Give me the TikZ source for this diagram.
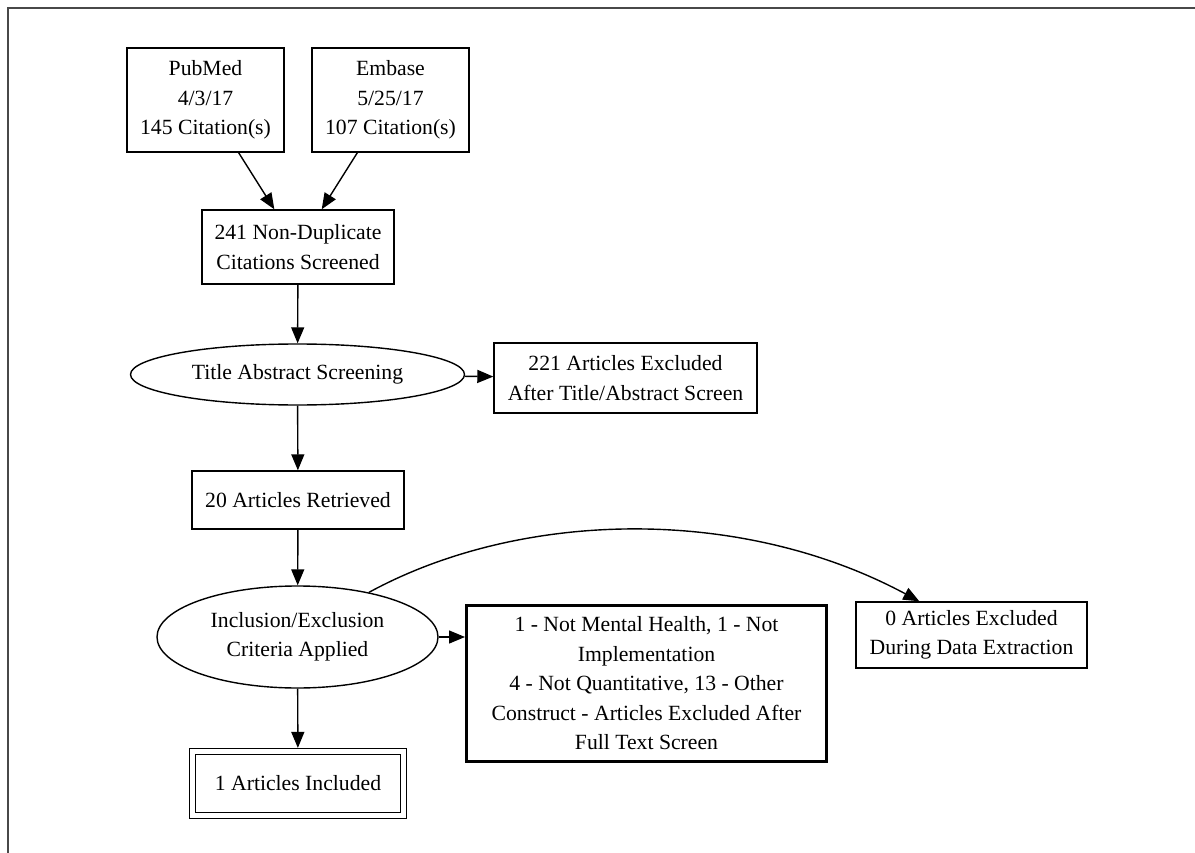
\documentclass[tikz,border=0pt]{standalone}
\usepackage{fontspec}
\setmainfont{Liberation Serif}
\usetikzlibrary{shapes.geometric,arrows.meta}
\definecolor{framegray}{RGB}{72,72,72}
\begin{document}
\begin{tikzpicture}[x=1pt,y=-1pt,
  every node/.style={font=\fontsize{21.7}{29.5}\selectfont, align=center, inner sep=0pt},
  box/.style={draw, rectangle, line width=1.4pt},
  oval/.style={draw, ellipse, line width=1.4pt},
  link/.style={line width=1.4pt, -{Triangle[length=16pt,width=13pt]}}
]
\useasboundingbox (0,0) rectangle (1195,853);

% outer frame (top and left edges)
\draw[framegray, line width=1.6pt] (8,853) -- (8,8) -- (1195,8);

% sources
\node[box, minimum width=157pt, minimum height=104pt] (pub) at (205.5,100) {PubMed\\4/3/17\\145 Citation(s)};
\node[box, minimum width=157pt, minimum height=104pt] (emb) at (390.5,100) {Embase\\5/25/17\\107 Citation(s)};

% screening flow
\node[box, minimum width=192pt, minimum height=74pt] (dedup) at (298,247) {241 Non-Duplicate\\Citations Screened};
\node[oval, minimum width=334pt, minimum height=61pt] (tas) at (297.5,374.5) {Title Abstract Screening};
\node[box, minimum width=263pt, minimum height=70pt] (exta) at (625.5,378) {221 Articles Excluded\\After Title/Abstract Screen};
\node[box, minimum width=212pt, minimum height=58pt] (ret) at (298,500) {20 Articles Retrieved};
\node[oval, minimum width=281pt, minimum height=102pt] (crit) at (297.5,637) {Inclusion/Exclusion\\Criteria Applied};
\node[draw, rectangle, line width=3pt, minimum width=360pt, minimum height=156pt] (exft) at (646.5,683.5)
  {1 - Not Mental Health, 1 - Not\\Implementation\\4 - Not Quantitative, 13 - Other\\Construct - Articles Excluded After\\Full Text Screen};
\node[box, minimum width=231pt, minimum height=66pt] (exde) at (971.5,635) {0 Articles Excluded\\During Data Extraction};
\node[draw, rectangle, double, double distance=4.8pt, line width=1.2pt, outer sep=3.6pt,
      minimum width=211pt, minimum height=64pt] (incl) at (298,783.5) {1 Articles Included};

% connectors
\draw[link] (pub) -- (dedup);
\draw[link] (emb) -- (dedup);
\draw[link] (dedup) -- (tas);
\draw[link] (tas) -- (exta);
\draw[link] (tas) -- (ret);
\draw[link] (ret) -- (crit);
\draw[link] (crit.east) -- (crit.east -| exft.west);
\draw[link] (crit) -- (incl);
\draw[link] (crit.32) .. controls (520,510) and (740,505) .. ([xshift=64pt]exde.north west);
\end{tikzpicture}
\end{document}
